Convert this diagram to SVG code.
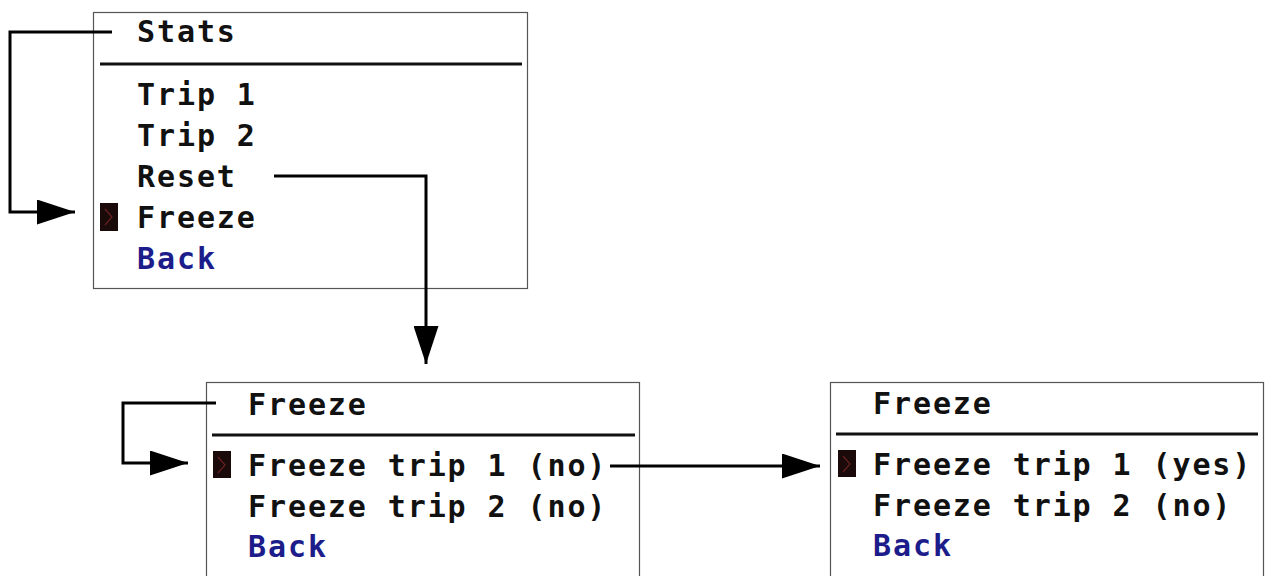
<svg xmlns="http://www.w3.org/2000/svg" width="1266" height="576" viewBox="0 0 1266 576">
<style>
.box{fill:#fff;stroke:#555;stroke-width:1.2}
.sep{stroke:#111;stroke-width:3}
.t{font-family:"DejaVu Sans Mono","Liberation Mono",monospace;font-weight:bold;font-size:30px;fill:#111;letter-spacing:1.9px}
.back{fill:#1c1c8a}
.cur{fill:#1a0a0a}
.chev{fill:none;stroke:#6a2020;stroke-width:1.2}
.conn{fill:none;stroke:#000;stroke-width:3}
</style>
<defs>
<marker id="ah" viewBox="0 0 10 10" refX="10" refY="5" markerWidth="38" markerHeight="25" markerUnits="userSpaceOnUse" orient="auto" preserveAspectRatio="none">
<path d="M0,0 L10,5 L0,10 z" fill="#000"/>
</marker>
</defs>
<g id="stats">
<rect class="box" x="93.5" y="12.5" width="434" height="276"/>
<text class="t" x="137" y="42">Stats</text>
<line class="sep" x1="100" y1="64" x2="522" y2="64"/>
<text class="t" x="137" y="105">Trip 1</text>
<text class="t" x="137" y="146">Trip 2</text>
<text class="t" x="137" y="187">Reset</text>
<rect class="cur" x="100" y="203" width="18" height="28"/>
<path class="chev" d="M105,209 L112,217 L105,225"/>
<text class="t" x="137" y="228">Freeze</text>
<text class="t back" x="137" y="269">Back</text>
</g>
<g id="freeze1">
<rect class="box" x="206.5" y="382.5" width="433" height="200"/>
<text class="t" x="248" y="415">Freeze</text>
<line class="sep" x1="212" y1="435" x2="635" y2="435"/>
<rect class="cur" x="213" y="451" width="18" height="27"/>
<path class="chev" d="M218,457 L225,465 L218,473"/>
<text class="t" x="248" y="476">Freeze trip 1 (no)</text>
<text class="t" x="248" y="517">Freeze trip 2 (no)</text>
<text class="t back" x="248" y="557">Back</text>
</g>
<g id="freeze2">
<rect class="box" x="830.5" y="382.5" width="433" height="200"/>
<text class="t" x="873" y="414">Freeze</text>
<line class="sep" x1="836" y1="434" x2="1258" y2="434"/>
<rect class="cur" x="838" y="450" width="18" height="27"/>
<path class="chev" d="M843,456 L850,464 L843,472"/>
<text class="t" x="873" y="475">Freeze trip 1 (yes)</text>
<text class="t" x="873" y="516">Freeze trip 2 (no)</text>
<text class="t back" x="873" y="556">Back</text>
</g>
<g id="connectors">
<path class="conn" d="M112,32 H10 V212 H75" marker-end="url(#ah)"/>
<path class="conn" d="M274,176 H426 V364" marker-end="url(#ah)"/>
<path class="conn" d="M216,403 H123 V463 H188" marker-end="url(#ah)"/>
<path class="conn" d="M610,466 H820" marker-end="url(#ah)"/>
</g>
</svg>
